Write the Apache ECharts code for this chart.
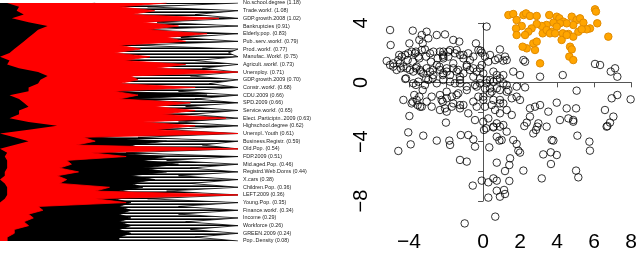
<!DOCTYPE html>
<html><head><meta charset="utf-8">
<script src="https://cdn.jsdelivr.net/npm/echarts@6/dist/echarts.min.js"></script>
<style>html,body{margin:0;padding:0;background:#fff}#c{width:640px;height:253px}</style>
</head><body><div id="c"></div>
<script>
const variables = ['No.school.degree (1.18)','Trade.workf. (1.08)','GDP.growth.2008 (1.02)','Bankruptcies (0.91)','Elderly.pop. (0.83)','Pub..serv..workf. (0.79)','Prod..workf. (0.77)','Manufac..Workf. (0.75)','Agricult..workf. (0.73)','Unemploy. (0.71)','GDP.growth.2009 (0.70)','Constr..workf. (0.68)','CDU.2009 (0.66)','SPD.2009 (0.66)','Service.workf. (0.65)','Elect..Participtn..2009 (0.63)','Highschool.degree (0.62)','Unempl..Youth (0.61)','Business.Registr. (0.59)','Old.Pop. (0.54)','FDP.2009 (0.51)','Mid.aged.Pop. (0.46)','Registrd.Web.Doms (0.44)','X.cars (0.38)','Children.Pop. (0.36)','LEFT.2009 (0.36)','Young.Pop. (0.35)','Finance.workf. (0.34)','Income (0.29)','Workforce (0.26)','GREEN.2009 (0.24)','Pop..Density (0.08)'];

// envelope of all (black) profile lines: value at each variable row, and between rows
const allRowMax = [100,100,100,100,100,100,100,100,100,100,100,100,100,100,100,100,100,100,100,100,100,100,100,100,100,100,100,100,100,100,100,100];
const allMidMax = [62,82,66,60,76,57,96,82,85,80,88,75,82,78,80,75,70,58,85,53,70,80,75,80,70,62,75,75,78,80,82];
// dense (solid black) part
const denseRow = [40,55,50,45,50,55,40,35,50,60,55,60,87,80,70,65,60,65,70,60,70,75,70,65,60,65,55,55,55,55,55,50];
const denseMid = [30,40,35,30,35,30,35,38,45,45,40,50,55,50,50,45,50,40,55,45,60,60,55,55,50,48,50,50,50,50,50];
// red profiles: left and right extents
const redLeftRow = [3,7,5,20,14,10,6,0,3,16,17,12,4,10,8,4,24,0,12,0,2,3,2,0,3,3,0,0,0,0,0,0];
const redLeftMid = [8,10,12,16,12,8,4,4,8,20,16,12,8,12,8,12,12,6,6,3,3,3,2,2,3,2,0,0,0,0,0];
const redRightRow = [70,65,92,75,87,78,59,63,78,100,58,82,58,80,82,95,82,100,40,100,53,30,33,28,46,100,53,18,14,12,6,3];
const redRightMid = [50,55,60,62,70,50,48,52,65,55,50,48,50,65,68,60,65,35,32,38,28,25,24,25,40,40,16,12,10,6,3];

const xTicks = [-4,-2,0,2,4,6,8];
const xTickLabels = ['\u22124','','0','2','4','6','8'];
const yTicks = [-8,-6,-4,-2,0,2,4];
const yTickLabels = ['\u22128','','\u22124','','0','','4'];

const orangePts = [[1.30,4.53],[1.56,4.60],[1.74,4.20],[2.10,4.53],[2.24,4.64],[2.45,4.47],[2.81,4.47],[3.48,4.53],[3.88,4.42],[4.02,4.31],[4.23,4.09],[4.68,4.42],[4.94,4.20],[5.12,4.31],[5.30,4.02],[5.92,4.91],[5.97,4.76],[6.04,3.98],[5.65,3.64],[5.48,3.58],[4.76,3.87],[4.41,3.98],[4.05,3.98],[3.70,4.02],[3.34,3.87],[3.08,3.80],[2.81,3.93],[2.54,3.64],[2.36,3.42],[2.19,3.20],[2.01,3.80],[1.71,3.64],[1.74,3.20],[3.13,3.31],[3.34,3.53],[3.61,3.42],[3.88,3.76],[4.20,3.31],[4.50,3.27],[4.76,3.09],[5.03,3.42],[5.21,3.58],[6.63,3.09],[4.59,2.42],[4.68,2.24],[4.55,1.76],[4.76,1.53],[2.99,1.31],[2.72,2.20],[2.28,2.31],[2.06,2.42],[2.63,2.64],[2.81,2.76],[3.52,3.31],[3.79,3.31],[4.14,2.87],[4.41,3.20]];

const blackPts = [[-5.01,3.53],[-3.80,3.49],[0.14,3.76],[-4.98,2.53],[-3.98,2.64],[-3.32,3.20],[-3.06,3.42],[-2.97,2.98],[-2.52,3.20],[-2.08,3.24],[-1.64,2.87],[-1.32,2.76],[-0.43,2.64],[0.85,2.24],[-0.18,2.16],[-0.12,2.02],
[-5.19,1.47],[-5.01,1.20],[-4.84,1.31],[-4.57,1.53],[-4.39,1.76],[-4.21,1.87],[-4.04,1.98],[-3.86,2.09],[-3.68,1.98],[-3.50,1.76],[-3.32,2.20],[-3.15,2.24],[-2.88,1.98],[-2.70,2.09],[-2.35,2.09],[-2.17,1.76],[-1.90,2.09],[-1.81,2.20],[-1.46,2.20],[-1.28,1.87],[-1.10,1.64],[-0.84,1.98],[-0.57,1.76],[-0.30,2.20],[0.05,1.76],[0.32,1.87],[0.59,1.53],[0.76,1.64],[1.03,1.49],[1.21,1.53],[2.10,1.53],[2.19,1.42],[1.56,0.76],[1.92,0.53],[2.99,0.42],[4.20,0.53],[4.94,-0.51],[5.92,1.27],[6.19,1.20],[6.76,0.76],[6.99,0.98],[7.11,0.42],
[-4.84,1.09],[-4.66,0.87],[-4.48,1.31],[-4.30,1.09],[-4.12,0.98],[-3.95,0.87],[-3.77,0.76],[-3.59,1.09],[-3.41,0.87],[-3.24,0.64],[-3.06,0.98],[-2.88,0.76],[-2.70,0.53],[-2.52,1.20],[-2.35,0.87],[-2.17,0.64],[-1.99,0.76],[-1.81,0.53],[-1.64,0.98],[-1.46,0.76],[-1.28,0.42],[-1.10,0.64],[-0.92,1.09],[-0.75,0.87],[-0.57,0.42],[-0.39,0.76],[-0.21,0.98],[-0.04,0.64],[0.14,0.20],[0.32,0.20],[0.50,0.09],[0.68,0.53],[0.85,0.31],[1.03,-0.02],[1.21,-0.13],
[-4.20,0.27],[-3.77,-0.02],[-3.50,0.09],[-3.15,-0.13],[-2.97,0.20],[-2.52,-0.02],[-2.17,0.20],[-1.81,0.09],[-1.55,-0.02],[-1.28,0.20],[-0.92,-0.24],[-0.48,-0.13],[-0.21,-0.02],[0.05,-0.36],[0.41,-0.58],[0.68,-0.36],[0.85,-0.47],[1.30,-0.47],[1.74,-0.24],[2.19,-0.29],
[-4.30,-1.13],[-3.86,-1.36],[-3.59,-1.13],[-3.41,-1.58],[-3.06,-1.24],[-2.79,-0.91],[-2.35,-0.80],[-2.26,-1.13],[-1.99,-1.02],[-1.72,-0.91],[-1.64,-1.36],[-1.37,-0.69],[-0.92,-0.47],[-0.57,-1.24],[-0.30,-0.91],[-0.04,-1.13],[0.32,-0.69],[0.50,-1.13],[0.85,-1.13],[1.03,-1.36],[1.48,-1.02],[1.74,-0.91],[1.92,-1.13],[2.45,-1.69],[2.72,-1.58],[2.99,-1.47],[3.43,-1.91],[3.88,-1.31],[4.41,-1.69],[4.91,-1.69],[6.45,-1.80],[6.81,-1.02],[7.11,-0.80],[7.82,-1.09],
[-3.98,-2.20],[-3.32,-1.58],[-2.79,-1.58],[-2.35,-1.80],[-1.99,-1.91],[-1.72,-1.58],[-1.28,-1.69],[-1.10,-1.47],[-0.84,-2.02],[-0.39,-1.58],[0.05,-1.58],[0.41,-1.47],[0.59,-1.80],[0.85,-2.02],[1.21,-1.80],[1.48,-2.13],[2.45,-2.24],[2.90,-2.69],[3.34,-2.91],[4.05,-2.47],[4.50,-2.36],[4.76,-2.47],[6.90,-2.24],[6.58,-2.87],[-0.48,-2.47],[-0.04,-2.58],[0.23,-2.36],[0.50,-2.91],[0.68,-2.69],
[-2.03,-2.64],[-4.04,-3.29],[-3.24,-3.51],[-2.52,-3.84],[-1.85,-3.84],[-1.81,-4.13],[-1.24,-3.47],[-0.84,-3.47],[-0.57,-3.76],[-0.48,-4.24],[0,-3.13],[0.11,-3.02],[0.28,-4.29],[0.50,-2.96],[0.85,-2.91],[1.03,-2.80],[1.21,-3.24],[0.68,-3.58],[0.82,-3.84],[0.94,-3.80],[1.56,-3.80],[1.74,-4.07],[1.83,-4.51],[1.92,-4.64],[2.15,-2.87],[2.28,-2.64],[2.63,-3.36],[2.77,-3.13],[2.84,-2.91],[3.16,-4.76],[3.56,-4.62],[3.70,-3.84],[3.61,-3.80],[3.88,-4.80],[3.57,-5.40],[4.98,-3.51],[5.62,-3.91],[5.65,-4.51],[6.54,-2.91],[6.72,-2.64],[4.76,-2.58],
[-4.57,-4.53],[-3.91,-4.09],[-1.28,-5.13],[-0.92,-5.24],[0.68,-5.31],[1.39,-5.02],[1.35,-5.47],[1.12,-5.87],[2.10,-5.84],[3.08,-6.36],[4.91,-5.84],[5.03,-6.29],[-0.12,-6.51],[0.23,-6.62],[0.50,-6.36],[0.68,-6.51],[1.35,-6.53],[-0.60,-6.84],[0.68,-7.18],[0.85,-7.58],[1.07,-7.13],[1.12,-7.40],[0.23,-7.64],[0.60,-8.91],[-1.03,-9.36],
[-3.45,2.87],[-3.27,2.64],[-4.52,1.87],[-3.63,2.09],[-4.07,1.53],[-3.80,1.42],[-3.45,1.64],[-3.09,1.76],[-2.83,1.42],[-2.47,1.64],[-2.20,1.87],[-4.43,0.98],[-3.63,0.98],[-3.36,0.76],[-2.74,0.87],[-2.38,1.09],[-2.20,0.53],[-2.74,0.31],[-3.09,0.31],[-4.16,0.31],[-3.63,-0.13],[-3.27,-0.47],[-3.72,-0.80],[-3.45,-0.91],[-3.80,-1.25],[-3.54,-1.47],[-2.20,-1.25],
[-2.17,2.09],[-2.17,1.64],[-1.90,1.76],[-1.55,1.98],[-1.10,1.87],[-0.75,1.53],[-0.92,1.20],[-1.64,1.31],[-1.99,0.98],[-1.37,0.87],[-0.57,0.98],[-0.12,1.20],[0.23,1.42],[1.12,1.76],[0.50,0.76],[-0.21,0.31],[0.14,-0.02],[-0.39,-0.24],[0.32,-0.36],[0.68,0.20],[1.03,0.53],[-1.28,-0.02],[-1.99,-0.58],[-1.46,-0.80],[-0.04,-0.91],[0.85,-1.36],[1.21,-0.58],[-2.08,-1.69],[-1.28,-1.47]];

function interleave(r, m) { const out = []; for (let i = 0; i < r.length; i++) { out.push(r[i]); if (i < m.length) out.push(m[i]); } return out; }
const cats = interleave(variables, variables.slice(1).map(() => ''));
const outer = interleave(allRowMax, allMidMax);
const dense = interleave(denseRow, denseMid);
const redL = interleave(redLeftRow, redLeftMid);
const redR = interleave(redRightRow, redRightMid);
const redBand = redR.map((v, i) => v - redL[i]);

// hatch pattern for the sparse part of the line bundle
const pc = document.createElement('canvas'); pc.width = 4; pc.height = 3;
const px = pc.getContext('2d');
px.fillStyle = '#fff'; px.fillRect(0, 0, 4, 3);
px.fillStyle = '#000'; px.fillRect(0, 0, 4, 1);
px.fillStyle = '#666'; px.fillRect(0, 2, 4, 1);

const chart = echarts.init(document.getElementById('c'), null, { renderer: 'canvas' });
const axisCol = '#555';
chart.setOption({
  animation: false,
  textStyle: { fontFamily: 'Liberation Sans, Arial, sans-serif' },
  grid: [
    { left: 0, top: 3, width: 238, height: 238 },
    { left: 371.5, top: 0.5, width: 262.5, height: 232.5 },
    { left: 409, top: 23, width: 225, height: 180 }
  ],
  xAxis: [
    { gridIndex: 0, type: 'value', min: 0, max: 100, show: false },
    { gridIndex: 1, type: 'value', min: -6, max: 8, show: false },
    { gridIndex: 2, type: 'value', min: -4, max: 8, interval: 2, position: 'bottom', offset: 29,
      axisLine: { show: true, lineStyle: { color: axisCol, width: 1 } },
      axisTick: { show: true, length: 5, lineStyle: { color: axisCol } },
      splitLine: { show: false },
      axisLabel: { fontSize: 21, color: '#000', margin: 2, formatter: v => xTickLabels[xTicks.indexOf(v)] || '' } }
  ],
  yAxis: [
    { gridIndex: 0, type: 'category', data: cats, inverse: true, boundaryGap: false, position: 'right',
      axisLine: { show: false }, axisTick: { show: false }, splitLine: { show: false },
      axisLabel: { interval: 0, fontSize: 5.4, margin: 5, color: '#222' } },
    { gridIndex: 1, type: 'value', min: -10, max: 5.5, show: false },
    { gridIndex: 2, type: 'value', min: -8, max: 4, interval: 2, position: 'left', offset: 33,
      axisLine: { show: true, lineStyle: { color: axisCol, width: 1 } },
      axisTick: { show: true, length: 5, lineStyle: { color: axisCol } },
      splitLine: { show: false },
      axisLabel: { fontSize: 20, color: '#000', margin: 5, rotate: 90, formatter: v => yTickLabels[yTicks.indexOf(v)] || '' } }
  ],
  series: [
    { type: 'line', xAxisIndex: 0, yAxisIndex: 0, data: outer, symbol: 'none', z: 1,
      lineStyle: { color: '#000', width: 0.8 }, areaStyle: { color: { image: pc, repeat: 'repeat' }, opacity: 1 } },
    { type: 'line', xAxisIndex: 0, yAxisIndex: 0, data: dense, symbol: 'none', z: 2,
      lineStyle: { color: '#000', width: 0.8 }, areaStyle: { color: '#000', opacity: 1 } },
    { type: 'line', xAxisIndex: 0, yAxisIndex: 0, data: redL, symbol: 'none', stack: 'red', z: 3,
      lineStyle: { opacity: 0 } },
    { type: 'line', xAxisIndex: 0, yAxisIndex: 0, data: redBand, symbol: 'none', stack: 'red', z: 3,
      lineStyle: { color: '#ff0000', width: 0.8 }, areaStyle: { color: '#ff0000', opacity: 1 } },
    { type: 'scatter', xAxisIndex: 1, yAxisIndex: 1, data: blackPts, symbolSize: 7.5, z: 4,
      itemStyle: { color: 'rgba(0,0,0,0)', borderColor: '#000', borderWidth: 1 } },
    { type: 'scatter', xAxisIndex: 1, yAxisIndex: 1, data: orangePts, symbolSize: 7.5, z: 5,
      itemStyle: { color: '#FFA500', borderColor: '#E08A00', borderWidth: 1, opacity: 1 } },
    { type: 'scatter', xAxisIndex: 2, yAxisIndex: 2, data: [], silent: true }
  ]
});
</script></body></html>
